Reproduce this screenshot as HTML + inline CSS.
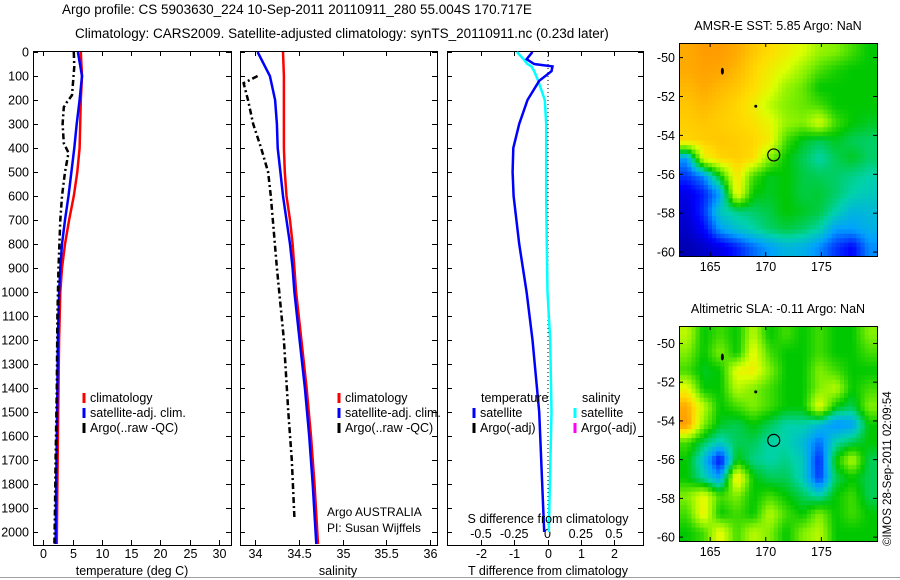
<!DOCTYPE html>
<html><head><meta charset="utf-8">
<style>
body{margin:0;background:#fff;}
svg{display:block;font-family:"Liberation Sans",Arial,sans-serif;}
</style></head>
<body>
<svg id="fig" width="900" height="580" viewBox="0 0 900 580">
<rect width="900" height="580" fill="#fff"/>
<line x1="0" y1="577.5" x2="900" y2="577.5" stroke="#a0a0a0" stroke-width="1"/>
<text x="62" y="14" font-size="13.5">Argo profile: CS 5903630_224 10-Sep-2011 20110911_280 55.004S 170.717E</text>
<text x="75" y="38" font-size="13.5">Climatology: CARS2009. Satellite-adjusted climatology: synTS_20110911.nc (0.23d later)</text>
<g id="layer"></g>
<text transform="translate(891,546) rotate(-90)" font-size="11.5">©IMOS 28-Sep-2011 02:09:54</text>
</svg>
<script>
// ---------- data ----------
const depthTicks=[0,100,200,300,400,500,600,700,800,900,1000,1100,1200,1300,1400,1500,1600,1700,1800,1900,2000];
const tTicks=[0,5,10,15,20,25,30];
const sTicks=[34,34.5,35,35.5,36];
const sTickLabels=["34","34.5","35","35.5","36"];
const dTicks=[-2,-1,0,1,2];
const dsTicks=[-0.5,-0.25,0,0.25,0.5];
const dsTickLabels=["-0.5","-0.25","0","0.25","0.5"];

const climDepth=[0,100,200,300,400,500,600,700,800,900,1000,1200,1400,1600,1800,2050];
const climTemp=[6.4,6.6,6.4,6.3,6.2,5.8,5.2,4.4,3.7,3.2,2.9,2.7,2.6,2.5,2.4,2.3];
const satTemp=[5.9,6.6,6.2,5.7,5.3,4.8,4.3,3.7,3.2,2.9,2.7,2.5,2.4,2.3,2.2,2.1];
const argoDepth=[0,60,180,210,230,300,380,420,500,600,700,900,1100,1400,1700,1900,2050];
const argoTemp=[5.2,5.3,4.9,4.0,3.5,3.3,3.5,4.3,3.7,3.2,2.9,2.6,2.4,2.3,2.1,2.0,1.9];

const climSal=[34.32,34.33,34.33,34.33,34.33,34.34,34.36,34.40,34.43,34.45,34.47,34.53,34.59,34.64,34.68,34.72];
const satSal=[34.03,34.17,34.23,34.25,34.26,34.29,34.32,34.36,34.40,34.43,34.45,34.51,34.57,34.62,34.66,34.70];
const argoSalDepth=[100,130,200,300,400,500,600,900,1200,1500,1700,1940];
const argoSal=[34.03,33.87,33.92,33.98,34.07,34.15,34.18,34.25,34.33,34.38,34.42,34.45];

const diffDepth=[0,30,50,60,80,120,200,300,400,500,600,800,1000,1200,1500,2000];
const diffTemp=[-0.45,-0.63,-0.4,0.15,0.12,-0.25,-0.6,-0.85,-1.03,-1.05,-1.02,-0.85,-0.63,-0.45,-0.25,-0.1];
const diffSal=[-0.23,-0.18,-0.15,-0.12,-0.1,-0.07,-0.02,-0.01,-0.01,-0.01,-0.01,-0.005,0,0.02,0.03,0.01];

const sstGrid=[
[.82,.85,.85,.82,.78,.75,.72,.68,.62,.6,.55,.5],
[.82,.84,.83,.8,.76,.72,.68,.62,.56,.52,.5,.5],
[.8,.82,.8,.78,.75,.7,.62,.58,.5,.5,.5,.5],
[.78,.8,.78,.76,.72,.65,.6,.58,.55,.5,.5,.5],
[.77,.78,.77,.76,.74,.7,.62,.6,.68,.55,.5,.48],
[.76,.77,.78,.77,.76,.72,.55,.48,.45,.48,.45,.44],
[.3,.7,.76,.77,.75,.6,.5,.45,.4,.45,.48,.44],
[.2,.28,.5,.74,.55,.48,.5,.46,.45,.44,.42,.4],
[.12,.18,.3,.72,.5,.48,.5,.46,.47,.44,.4,.38],
[.1,.2,.38,.42,.44,.46,.5,.48,.46,.4,.34,.35],
[.08,.15,.3,.36,.4,.44,.46,.44,.4,.3,.3,.33],
[.05,.08,.12,.18,.25,.3,.34,.33,.28,.2,.15,.28]];
const slaGrid=[
[.65,.5,.55,.5,.65,.5,.55,.5,.55,.5,.5,.6],
[.6,.5,.6,.5,.7,.55,.5,.5,.55,.5,.5,.55],
[.55,.48,.5,.7,.72,.6,.5,.5,.6,.55,.5,.5],
[.7,.5,.5,.65,.6,.55,.5,.5,.6,.65,.5,.55],
[.82,.65,.5,.55,.6,.55,.5,.5,.7,.5,.45,.6],
[.85,.6,.48,.45,.5,.45,.4,.4,.35,.28,.3,.5],
[.55,.45,.38,.45,.45,.4,.4,.35,.25,.4,.45,.5],
[.5,.35,.15,.5,.42,.4,.42,.38,.18,.5,.65,.45],
[.5,.4,.3,.75,.5,.45,.45,.38,.2,.45,.5,.45],
[.6,.7,.55,.6,.5,.55,.5,.45,.4,.5,.55,.45],
[.55,.72,.5,.55,.5,.65,.55,.5,.6,.5,.55,.5],
[.5,.55,.7,.55,.65,.6,.5,.6,.65,.5,.5,.5]];
const latTicks=[-50,-52,-54,-56,-58,-60];
const lonTicks=[165,170,175];
const floatLon=170.717, floatLat=-55.004;

// ---------- helpers ----------
const NS="http://www.w3.org/2000/svg";
const layer=document.getElementById('layer');
function mk(tag,attrs,parent){const e=document.createElementNS(NS,tag);for(const k in attrs)e.setAttribute(k,attrs[k]);(parent||layer).appendChild(e);return e;}
function lin(d0,d1,r0,r1){return v=>r0+(v-d0)*(r1-r0)/(d1-d0);}
const yDepth=lin(0,2000,52,532);

function axesBox(x0,x1,y0,y1,name){
  const r=mk('rect',{x:x0+.5,y:y0+.5,width:x1-x0,height:y1-y0,fill:'none',stroke:'#000','stroke-width':1});
  
  
}
function line(pts,color,name,dash){
  const p=mk('polyline',{points:pts.map(q=>q[0].toFixed(1)+','+q[1].toFixed(1)).join(' '),fill:'none',stroke:color,'stroke-width':2.5});
  if(dash)p.setAttribute('stroke-dasharray',dash);
  
  
}
function txt(x,y,s,size,anchor,name){
  const t=mk('text',{x:x,y:y,'font-size':size,'text-anchor':anchor||'start'});
  t.textContent=s;
  
  
  return t;
}
function depthAxis(x0,x1,labels){
  depthTicks.forEach(d=>{
    const y=yDepth(d);
    mk('line',{x1:x0,y1:y+.5,x2:x0+5,y2:y+.5,stroke:'#000'});
    mk('line',{x1:x1-5,y1:y+.5,x2:x1,y2:y+.5,stroke:'#000'});
    if(labels)txt(x0-4,y+4.5,String(d),12.5,'end','depth-tick-label');
  });
}
function xTicks(vals,labels,sx,y0,y1,name){
  vals.forEach((v,i)=>{
    const x=Math.round(sx(v))+.5;
    mk('line',{x1:x,y1:y1,x2:x,y2:y1-5,stroke:'#000'});
    mk('line',{x1:x,y1:y0,x2:x,y2:y0+5,stroke:'#000'});
    txt(x,y1+13,labels[i],12.5,'middle',name);
  });
}
function legendEntry(mx,y,color,label,name){
  const l=mk('line',{x1:mx,y1:y-9,x2:mx,y2:y+1,stroke:color,'stroke-width':3});
  
  
  txt(mx+6,y,label,12.5,'start',name);
}

// ---------- panel 1: temperature ----------
const sxT=lin(0,30,43.3,219);
axesBox(33,231,51,545,'temperature-axes');
depthAxis(33,231,true);
xTicks(tTicks,tTicks.map(String),sxT,51,545,'temperature-tick-label');
line(climDepth.map((d,i)=>[sxT(climTemp[i]),yDepth(d)]),'#ff0000','climatology-temperature-line');
line(climDepth.map((d,i)=>[sxT(satTemp[i]),yDepth(d)]),'#0000ff','satellite-temperature-line');
line(argoDepth.map((d,i)=>[sxT(argoTemp[i]),yDepth(d)]),'#000','argo-temperature-line','6,3,2,3');
txt(132,575,'temperature (deg C)',12.5,'middle','temperature-axis-title');
legendEntry(84,402,'#ff0000','climatology','legend-climatology');
legendEntry(84,417,'#0000ff','satellite-adj. clim.','legend-satellite');
legendEntry(84,432,'#000','Argo(..raw -QC)','legend-argo');

// ---------- panel 2: salinity ----------
const sxS=lin(34,36,255,430);
axesBox(240,437,51,545,'salinity-axes');
depthAxis(240,437,false);
xTicks(sTicks,sTickLabels,sxS,51,545,'salinity-tick-label');
line(climDepth.map((d,i)=>[sxS(climSal[i]),yDepth(d)]),'#ff0000','climatology-salinity-line');
line(climDepth.map((d,i)=>[sxS(satSal[i]),yDepth(d)]),'#0000ff','satellite-salinity-line');
line(argoSalDepth.map((d,i)=>[sxS(argoSal[i]),yDepth(d)]),'#000','argo-salinity-line','6,3,2,3');
txt(338,575,'salinity',12.5,'middle','salinity-axis-title');
legendEntry(339,402,'#ff0000','climatology','legend-climatology-2');
legendEntry(339,417,'#0000ff','satellite-adj. clim.','legend-satellite-2');
legendEntry(339,432,'#000','Argo(..raw -QC)','legend-argo-2');
txt(327,516,'Argo AUSTRALIA',12,'start','argo-institution');
txt(327,532,'PI: Susan Wijffels',12,'start','argo-pi');

// ---------- panel 3: differences ----------
const sxD=lin(-2,2,481,614);
const sxDS=lin(-0.5,0.5,481,614);
axesBox(447,643,51,545,'difference-axes');
depthAxis(447,643,false);
xTicks(dTicks,dTicks.map(String),sxD,51,545,'t-difference-tick-label');
dsTicks.forEach((v,i)=>txt(sxDS(v),538,dsTickLabels[i],12.5,'middle','s-difference-tick-label'));
const z=mk('line',{x1:sxD(0)+.5,y1:52,x2:sxD(0)+.5,y2:532,stroke:'#000','stroke-dasharray':'1,3'});


line(diffDepth.map((d,i)=>[sxDS(diffSal[i]),yDepth(d)]),'#00ffff','salinity-difference-line');
line(diffDepth.map((d,i)=>[sxD(diffTemp[i]),yDepth(d)]),'#0000ff','temperature-difference-line');
txt(548,523,'S difference from climatology',12.5,'middle','s-difference-axis-title');
txt(548,575,'T difference from climatology',12.5,'middle','t-difference-axis-title');
txt(481,402,'temperature',12.5,'start','legend-temperature-heading');
txt(582,402,'salinity',12.5,'start','legend-salinity-heading');
legendEntry(474,417,'#0000ff','satellite','legend-temp-satellite');
legendEntry(474,432,'#000','Argo(-adj)','legend-temp-argo');
legendEntry(575,417,'#00ffff','satellite','legend-sal-satellite');
legendEntry(575,432,'#ff00ff','Argo(-adj)','legend-sal-argo');

// ---------- maps ----------
const cmapStops=[[0,0,0,140],[0.15,0,0,255],[0.3,0,160,255],[0.4,0,210,170],[0.5,0,200,0],[0.6,130,240,0],[0.68,220,255,0],[0.75,255,220,0],[0.82,255,170,0],[1,255,90,0]];
function cmap(v){
  v=Math.max(0,Math.min(1,v));
  for(let i=1;i<cmapStops.length;i++){
    const a=cmapStops[i-1],b=cmapStops[i];
    if(v<=b[0]){const t=(v-a[0])/(b[0]-a[0]);
      return 'rgb('+[1,2,3].map(k=>Math.round(a[k]+(b[k]-a[k])*t)).join(',')+')';}
  }
  return 'rgb(255,90,0)';
}
function sample(grid,fr,fc){
  const rows=grid.length, cols=grid[0].length;
  fr=Math.max(0,Math.min(rows-1,fr)); fc=Math.max(0,Math.min(cols-1,fc));
  const r0=Math.floor(fr), c0=Math.floor(fc), r1=Math.min(rows-1,r0+1), c1=Math.min(cols-1,c0+1);
  const tr=fr-r0, tc=fc-c0;
  return (grid[r0][c0]*(1-tc)+grid[r0][c1]*tc)*(1-tr)+(grid[r1][c0]*(1-tc)+grid[r1][c1]*tc)*tr;
}
function map(grid,x0,x1,y0,y1,latTop,latBot,title,name){
  const lonL=162.2,lonR=180;
  const sx=lin(lonL,lonR,x0,x1), sy=lin(latTop,latBot,y0,y1);
  const rows=grid.length, cols=grid[0].length, sub=4;
  const nR=rows*sub, nC=cols*sub;
  const cw=(x1-x0)/nC, ch=(y1-y0)/nR;
  for(let r=0;r<nR;r++)for(let c=0;c<nC;c++){
    const v=sample(grid,(r+0.5)/sub-0.5,(c+0.5)/sub-0.5);
    const cell=mk('rect',{x:(x0+c*cw).toFixed(2),y:(y0+r*ch).toFixed(2),width:(cw+.5).toFixed(2),height:(ch+.5).toFixed(2),fill:cmap(v)});
    
    
  }
  axesBox(x0,x1,y0,y1,name+'-frame');
  latTicks.forEach(l=>{const y=sy(l);
    mk('line',{x1:x0,y1:y,x2:x0+4,y2:y,stroke:'#000'});
    mk('line',{x1:x1-4,y1:y,x2:x1,y2:y,stroke:'#000'});
    txt(x0-4,y+4.5,String(l),12.5,'end',name+'-lat-label');});
  lonTicks.forEach(l=>{const x=sx(l);
    mk('line',{x1:x,y1:y0,x2:x,y2:y0+4,stroke:'#000'});
    mk('line',{x1:x,y1:y1,x2:x,y2:y1-4,stroke:'#000'});
    txt(x,y1+15,String(l),12.5,'middle',name+'-lon-label');});
  const m=mk('circle',{cx:sx(floatLon),cy:sy(floatLat),r:6,fill:'none',stroke:'#000','stroke-width':1.2});
  
  
  const i1=mk('ellipse',{cx:sx(166.1),cy:sy(-50.7),rx:1.5,ry:3.5,fill:'#000'});
  
  
  const i2=mk('circle',{cx:sx(169.1),cy:sy(-52.5),r:1.5,fill:'#000'});
  
  
  txt((x0+x1)/2,y0-13,title,12.5,'middle',name+'-title');
}
map(sstGrid,679,877,43,256,-49.25,-60.2,'AMSR-E SST: 5.85 Argo: NaN','sst-map');
map(slaGrid,679,877,326,541,-49.1,-60.2,'Altimetric SLA: -0.11 Argo: NaN','sla-map');
</script>
</body></html>
